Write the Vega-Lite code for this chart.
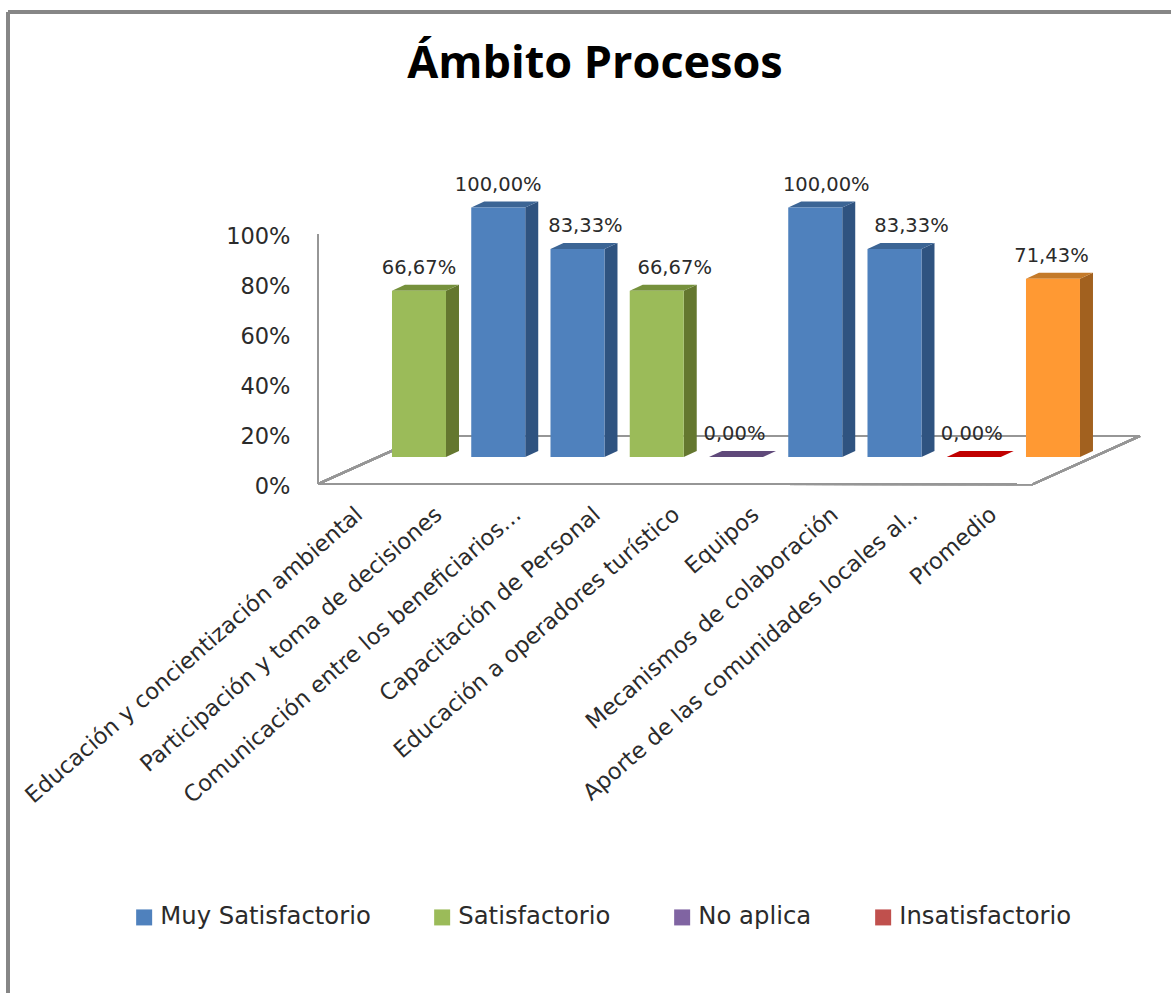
{
"$schema":"https://vega.github.io/schema/vega-lite/v6.json",
"width":822,"height":330,"autosize":"none",
"padding":{"left":318,"top":170,"right":31,"bottom":493},
"background":"white",
"config":{"view":{"stroke":null},"font":"DejaVu Sans","scale":{"continuousPadding":0}},
"title":{"text":"Ámbito Procesos","font":"Open Sans","fontSize":45,"fontWeight":"bold","color":"#000000","anchor":"middle","frame":"group","dx":-134,"offset":-77},
"datasets":{"barras":[
{"categoria":"Educación y concientización ambiental","i":0,"valor":66.67,"etiqueta":"66,67%","serie":"Satisfactorio"},
{"categoria":"Participación y toma de decisiones","i":1,"valor":100,"etiqueta":"100,00%","serie":"Muy Satisfactorio"},
{"categoria":"Comunicación entre los beneficiarios…","i":2,"valor":83.33,"etiqueta":"83,33%","serie":"Muy Satisfactorio"},
{"categoria":"Capacitación de Personal","i":3,"valor":66.67,"etiqueta":"66,67%","serie":"Satisfactorio"},
{"categoria":"Educación a operadores turístico","i":4,"valor":0,"etiqueta":"0,00%","serie":"No aplica"},
{"categoria":"Equipos","i":5,"valor":100,"etiqueta":"100,00%","serie":"Muy Satisfactorio"},
{"categoria":"Mecanismos de colaboración","i":6,"valor":83.33,"etiqueta":"83,33%","serie":"Muy Satisfactorio"},
{"categoria":"Aporte de las comunidades locales al..","i":7,"valor":0,"etiqueta":"0,00%","serie":"Insatisfactorio"},
{"categoria":"Promedio","i":8,"valor":71.43,"etiqueta":"71,43%","serie":"Promedio"}
]},
"data":{"name":"barras"},
"resolve":{"scale":{"y":"independent","color":"independent"},"axis":{"x":"independent","y":"independent"},"legend":{"color":"independent"}},
"layer":[
{"mark":{"type":"rule","stroke":"#868686","strokeWidth":3},
 "encoding":{"x":{"datum":-5.186,"type":"quantitative","scale":{"domain":[-1.2744,9.098],"nice":false,"zero":false},"axis":null},"x2":{"datum":9.489},
 "y":{"datum":178.36,"type":"quantitative","scale":{"domain":[-17.234,115.03],"nice":false,"zero":false},"axis":null},"y2":{"datum":178.36}}},
{"mark":{"type":"rule","stroke":"#868686","strokeWidth":3},
 "encoding":{"x":{"datum":-5.186,"type":"quantitative","scale":{"domain":[-1.2744,9.098],"nice":false,"zero":false},"axis":null},
 "y":{"datum":178.36,"type":"quantitative","scale":{"domain":[-17.234,115.03],"nice":false,"zero":false},"axis":null},"y2":{"datum":-214.8}}},
{"mark":{"type":"rule","stroke":"#969696","strokeWidth":2},
 "encoding":{"x":{"datum":-1.2744,"type":"quantitative","scale":{"domain":[-1.2744,9.098],"nice":false,"zero":false},"axis":null},"x2":{"datum":7.748},
 "y":{"datum":-10.82,"type":"quantitative","scale":{"domain":[-17.234,115.03],"nice":false,"zero":false},"axis":null},"y2":{"datum":-10.9}}},
{"mark":{"type":"rule","stroke":"#969696","strokeWidth":2},
 "encoding":{"x":{"datum":7.748,"type":"quantitative","scale":{"domain":[-1.2744,9.098],"nice":false,"zero":false},"axis":null},"x2":{"datum":9.098},
 "y":{"datum":-10.9,"type":"quantitative","scale":{"domain":[-17.234,115.03],"nice":false,"zero":false},"axis":null},"y2":{"datum":8.42}}},
{"mark":{"type":"rule","stroke":"#969696","strokeWidth":2},
 "encoding":{"x":{"datum":0.0757,"type":"quantitative","scale":{"domain":[-1.2744,9.098],"nice":false,"zero":false},"axis":null},"x2":{"datum":9.098},
 "y":{"datum":8.42,"type":"quantitative","scale":{"domain":[-17.234,115.03],"nice":false,"zero":false},"axis":null},"y2":{"datum":8.42}}},
{"mark":{"type":"rule","stroke":"#969696","strokeWidth":2},
 "encoding":{"x":{"datum":-1.2744,"type":"quantitative","scale":{"domain":[-1.2744,9.098],"nice":false,"zero":false},"axis":null},"x2":{"datum":0.0757},
 "y":{"datum":-10.82,"type":"quantitative","scale":{"domain":[-17.234,115.03],"nice":false,"zero":false},"axis":null},"y2":{"datum":8.42}}},
{"mark":{"type":"rule","stroke":"#969696","strokeWidth":2},
 "encoding":{"x":{"datum":-1.2744,"type":"quantitative","scale":{"domain":[-1.2744,9.098],"nice":false,"zero":false},"axis":null},
 "y":{"datum":0,"type":"quantitative","scale":{"domain":[0,100],"range":[314,64],"nice":false,"zero":false},
  "axis":{"values":[0,20,40,60,80,100],"title":null,"orient":"left","ticks":false,"domain":false,"grid":false,"labelExpr":"datum.value + '%'","labelFontSize":22.5,"labelColor":"#2B2B2B","labelPadding":28,"labelFont":"DejaVu Sans","labelOffset":2}},"y2":{"datum":100}}},
{"transform":[{"calculate":"[0,1]","as":"p"},{"flatten":["p"]},{"calculate":"datum.i+0.3407+datum.p*0.164","as":"xc"},{"calculate":"datum.valor+datum.p*2.4","as":"yt"},{"calculate":"datum.p*2.4","as":"yb"}],
 "mark":{"type":"area","orient":"vertical"},
 "encoding":{"x":{"field":"xc","type":"quantitative","scale":{"domain":[-1.2744,9.098],"nice":false,"zero":false},"axis":null},
 "y":{"field":"yt","type":"quantitative","stack":null,"scale":{"domain":[-17.234,115.03],"nice":false,"zero":false},"axis":null},"y2":{"field":"yb"},"detail":{"field":"i"},
 "color":{"field":"serie","type":"nominal","legend":null,"scale":{"domain":["Muy Satisfactorio","Satisfactorio","No aplica","Insatisfactorio","Promedio"],"range":["#2F5380","#64772F","#5F497A","#C00000","#A2611F"]}}}},
{"transform":[{"calculate":"[0,1]","as":"p"},{"flatten":["p"]},{"calculate":"datum.i-0.3407+datum.p*0.164","as":"xi"},{"calculate":"datum.i+0.3407+datum.p*0.164","as":"xd"},{"calculate":"datum.valor+datum.p*2.4","as":"yt"}],
 "mark":{"type":"area","orient":"horizontal"},
 "encoding":{"x":{"field":"xi","type":"quantitative","scale":{"domain":[-1.2744,9.098],"nice":false,"zero":false},"axis":null},"x2":{"field":"xd"},
 "y":{"field":"yt","type":"quantitative","stack":null,"scale":{"domain":[-17.234,115.03],"nice":false,"zero":false},"axis":null},"detail":{"field":"i"},
 "color":{"field":"serie","type":"nominal","legend":null,"scale":{"domain":["Muy Satisfactorio","Satisfactorio","No aplica","Insatisfactorio","Promedio"],"range":["#3C6595","#76913C","#5F497A","#C00000","#C47A2A"]}}}},
{"mark":{"type":"bar","orient":"vertical","size":54},
 "encoding":{"x":{"field":"i","type":"quantitative","scale":{"domain":[-1.2744,9.098],"nice":false,"zero":false},"axis":{"values":[0,1,2,3,4,5,6,7,8],"title":null,"ticks":false,"domain":false,"grid":false,"labelAngle":-41,"labelAlign":"right","labelBaseline":"middle","labelOverlap":false,"labelBound":false,"labelFlush":false,"labelLimit":800,"labelFontSize":22.5,"labelColor":"#2B2B2B","labelFont":"DejaVu Sans","labelPadding":11,"labelOffset":-60,
  "labelExpr":"['Educación y concientización ambiental','Participación y toma de decisiones','Comunicación entre los beneficiarios…','Capacitación de Personal','Educación a operadores turístico','Equipos','Mecanismos de colaboración','Aporte de las comunidades locales al..','Promedio'][datum.value]"}},
 "y":{"field":"valor","type":"quantitative","stack":null,"scale":{"domain":[-17.234,115.03],"nice":false,"zero":false},"axis":null},"y2":{"datum":0},
 "color":{"field":"serie","type":"nominal","scale":{"domain":["Muy Satisfactorio","Satisfactorio","No aplica","Insatisfactorio","Promedio"],"range":["#4F81BD","#9BBB59","#8064A2","#C0504D","#FF9933"]},
  "legend":{"values":["Muy Satisfactorio","Satisfactorio","No aplica","Insatisfactorio"],"title":null,"orient":"none","legendX":-186,"legendY":735,"direction":"horizontal","columns":4,"columnPadding":59,"symbolType":"square","symbolSize":256,"symbolStrokeWidth":0,"labelFontSize":24.3,"labelColor":"#2B2B2B","labelFont":"DejaVu Sans","labelOffset":4,"labelLimit":400,"padding":0}}}},
{"transform":[{"calculate":"datum.i+[0,0,0.1,0.227,-0.019,0.139,0.215,-0.025,-0.019][datum.i]","as":"xt"}],
 "mark":{"type":"text","fontSize":19.5,"color":"#2B2B2B","baseline":"middle","align":"center","dy":-23,"font":"DejaVu Sans"},
 "encoding":{"x":{"field":"xt","type":"quantitative","scale":{"domain":[-1.2744,9.098],"nice":false,"zero":false},"axis":null},
 "y":{"field":"valor","type":"quantitative","stack":null,"scale":{"domain":[-17.234,115.03],"nice":false,"zero":false},"axis":null},
 "text":{"field":"etiqueta","type":"nominal"}}}
]
}
